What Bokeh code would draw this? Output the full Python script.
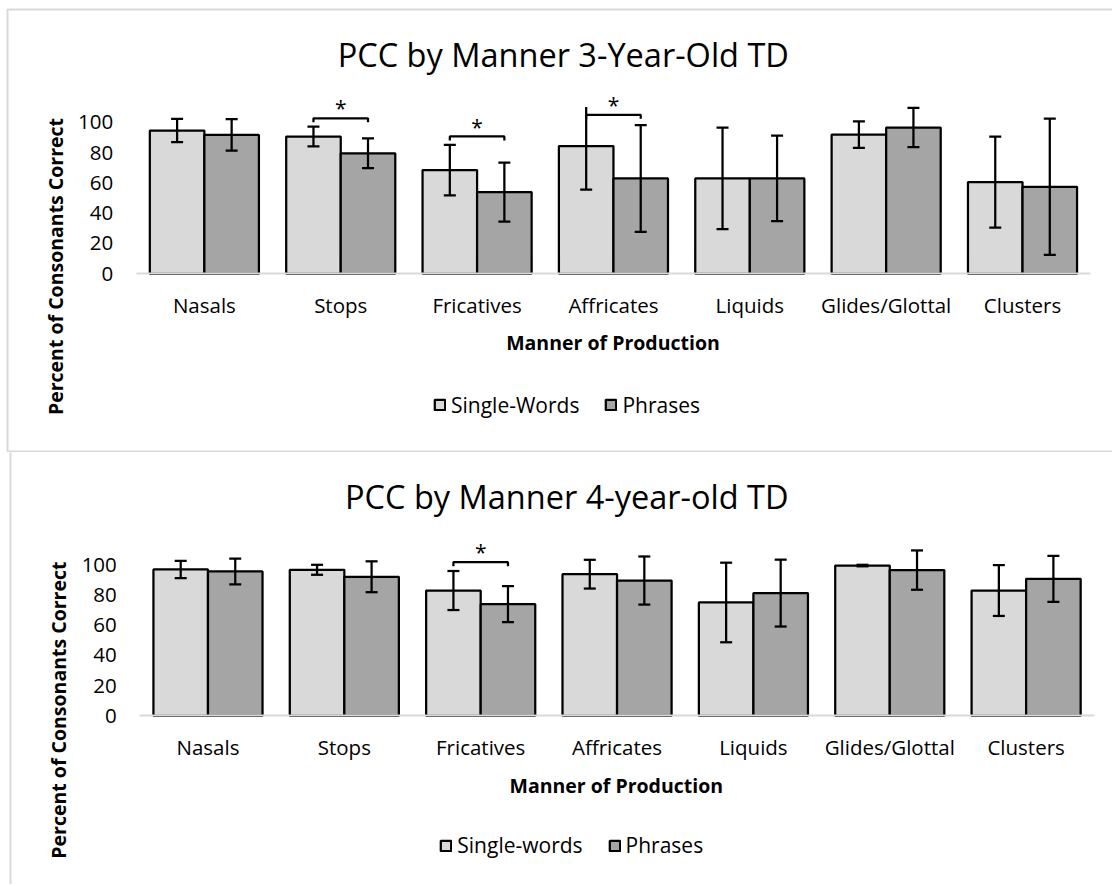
import math
from bokeh.plotting import figure
from bokeh.models import Range1d, ColumnDataSource, Label, Legend, LegendItem, FixedTicker
from bokeh.layouts import column
from bokeh.embed import file_html
from bokeh.resources import INLINE
from bokeh.core.properties import value

# ---------------- data ----------------
categories = ["Nasals", "Stops", "Fricatives", "Affricates", "Liquids", "Glides/Glottal", "Clusters"]
y_ticks = [0, 20, 40, 60, 80, 100]
y_axis_max = 110   # value axis maximum (error bars are cut off there)

title_3 = "PCC by Manner 3-Year-Old TD"
single_3 = [94.5, 90.5, 68.4, 84.3, 62.9, 91.8, 60.5]
single_3_err = [7.7, 6.5, 16.6, 28.7, 33.5, 8.8, 30.0]
phrases_3 = [91.6, 79.5, 53.9, 62.9, 62.9, 96.5, 57.4]
phrases_3_err = [10.4, 9.8, 19.5, 35.2, 28.2, 12.9, 44.9]
sig_3 = ["Stops", "Fricatives", "Affricates"]
sig_3_level = [102.6, 90.6, 104.9]
legend_3 = ["Single-Words", "Phrases"]

title_4 = "PCC by Manner 4-year-old TD"
single_4 = [96.7, 96.5, 82.8, 93.6, 74.9, 99.3, 82.8]
single_4_err = [5.7, 3.3, 12.9, 9.5, 26.3, 0.5, 16.8]
phrases_4 = [95.4, 91.9, 73.8, 89.4, 81.1, 96.3, 90.5]
phrases_4_err = [8.5, 10.2, 11.9, 15.9, 22.1, 13.0, 15.2]
sig_4 = ["Fricatives"]
sig_4_level = [101.5]
legend_4 = ["Single-words", "Phrases"]

x_title = "Manner of Production"
y_title = "Percent of Consonants Correct"

FONT = "Open Sans"
LIGHT = "#d9d9d9"
DARK = "#a5a5a5"
BORDER = "#d9d9d9"
W = 1112
BAR_W = 0.4
LW = 2.25
CAP_PX = 12


def make_chart(title, single, single_err, phrases, phrases_err, sig, sig_level, legend_labels,
               H, frame_l, frame_r, base_y, ppu, title_c, xlab_c, ylab_c, legend_lb,
               border_x, border_top, border_bottom):
    n = len(categories)
    g = (frame_r - frame_l) / n

    def px2x(px):
        return (px - frame_l) / g

    def py2y(py):
        return (base_y - py) / ppu

    p = figure(x_range=Range1d(px2x(0), px2x(W)), y_range=Range1d(py2y(H), py2y(0)),
               width=W, height=H, output_backend="svg", toolbar_location=None,
               min_border=0, title=None)
    p.outline_line_color = None
    p.background_fill_color = "white"
    p.border_fill_color = "white"
    p.xgrid.grid_line_color = None
    p.ygrid.grid_line_color = None

    # chart-area border
    if border_bottom is not None:
        bx = [px2x(W), px2x(border_x), px2x(border_x), px2x(W)]
        by = [py2y(border_top), py2y(border_top), py2y(border_bottom), py2y(border_bottom)]
    else:
        bx = [px2x(border_x), px2x(border_x)]
        by = [py2y(border_top), py2y(H)]
    p.line(x=bx, y=by, line_color=BORDER, line_width=2)

    xs_s = [i + 0.5 - BAR_W / 2 for i in range(n)]
    xs_p = [i + 0.5 + BAR_W / 2 for i in range(n)]
    r_s = p.vbar(x=xs_s, top=single, bottom=0, width=BAR_W,
                 fill_color=LIGHT, line_color="black", line_width=LW)
    r_p = p.vbar(x=xs_p, top=phrases, bottom=0, width=BAR_W,
                 fill_color=DARK, line_color="black", line_width=LW)

    # error bars (cut at the value-axis maximum, as in the original)
    cap = CAP_PX / g / 2
    sx0, sy0, sy1 = [], [], []
    cx0, cx1, cy = [], [], []
    for xs, vals, errs in ((xs_s, single, single_err), (xs_p, phrases, phrases_err)):
        for x, v, e in zip(xs, vals, errs):
            hi, lo = v + e, v - e
            sx0.append(x)
            sy0.append(lo)
            sy1.append(min(hi, y_axis_max))
            for yy in (lo, hi):
                if yy <= y_axis_max:
                    cx0.append(x - cap)
                    cx1.append(x + cap)
                    cy.append(yy)
    p.segment(x0=sx0, y0=sy0, x1=sx0, y1=sy1, line_color="black", line_width=LW)
    p.segment(x0=cx0, y0=cy, x1=cx1, y1=cy, line_color="black", line_width=LW)

    # significance brackets
    bxs, bys, stx, sty = [], [], [], []
    for cat, lvl in zip(sig, sig_level):
        i = categories.index(cat)
        a, b = xs_s[i], xs_p[i]
        bxs.append([a, a, b, b])
        bys.append([lvl - 2.6, lvl, lvl, lvl - 2.6])
        stx.append((a + b) / 2)
        sty.append(lvl + 6.5)
    p.multi_line(xs=bxs, ys=bys, line_color="black", line_width=LW)
    p.text(x=stx, y=sty, text=["*"] * len(stx), text_font=value(FONT), text_font_size="21px",
           text_align="center", text_baseline="middle", text_color="black")

    # axes (placed at the data origin)
    p.yaxis.fixed_location = 0
    p.yaxis.ticker = FixedTicker(ticks=y_ticks)
    p.yaxis.axis_line_color = None
    p.yaxis.major_tick_line_color = None
    p.yaxis.minor_tick_line_color = None
    p.yaxis.major_tick_out = 0
    p.yaxis.major_label_standoff = 23
    p.yaxis.major_label_text_font = FONT
    p.yaxis.major_label_text_font_size = "20.5px"
    p.yaxis.major_label_text_color = "black"

    p.xaxis.fixed_location = 0
    p.xaxis.bounds = (0, n)
    p.xaxis.ticker = FixedTicker(ticks=[i + 0.5 for i in range(n)])
    p.xaxis.major_label_overrides = {i + 0.5: c for i, c in enumerate(categories)}
    p.xaxis.axis_line_color = BORDER
    p.xaxis.axis_line_width = 2
    p.xaxis.major_tick_line_color = None
    p.xaxis.minor_tick_line_color = None
    p.xaxis.major_tick_out = 0
    p.xaxis.major_label_standoff = 17
    p.xaxis.major_label_text_font = FONT
    p.xaxis.major_label_text_font_size = "20.5px"
    p.xaxis.major_label_text_color = "black"

    # titles
    p.add_layout(Label(x=px2x(title_c[0]), y=py2y(title_c[1]), text=title, text_font=FONT,
                       text_font_size="32.5px", text_align="center", text_baseline="middle",
                       text_color="black"))
    p.add_layout(Label(x=px2x(xlab_c[0]), y=py2y(xlab_c[1]), text=x_title, text_font=FONT,
                       text_font_size="19.5px", text_font_style="bold", text_align="center",
                       text_baseline="middle", text_color="black"))
    p.add_layout(Label(x=px2x(ylab_c[0]), y=py2y(ylab_c[1]), text=y_title, text_font=FONT,
                       text_font_size="19.5px", text_font_style="bold", angle=math.pi / 2,
                       text_align="center", text_baseline="middle", text_color="black"))

    # legend
    leg = Legend(items=[LegendItem(label=legend_labels[0], renderers=[r_s]),
                        LegendItem(label=legend_labels[1], renderers=[r_p])],
                 orientation="horizontal", location=(legend_lb[0], H - legend_lb[1]),
                 glyph_width=13, glyph_height=13, label_standoff=5, spacing=25,
                 padding=0, margin=0, border_line_color=None, background_fill_alpha=0,
                 label_text_font=FONT, label_text_font_size="21px", label_text_color="black",
                 label_height=13)
    p.add_layout(leg, "center")
    return p


p1 = make_chart(title_3, single_3, single_3_err, phrases_3, phrases_3_err, sig_3, sig_3_level,
                legend_3, H=452, frame_l=135.7, frame_r=1090.2, base_y=273.3, ppu=1.516,
                title_c=(562.8, 53.8), xlab_c=(612.5, 341.7), ylab_c=(55, 266),
                legend_lb=(433, 418.5), border_x=7, border_top=9, border_bottom=451)
p2 = make_chart(title_4, single_4, single_4_err, phrases_4, phrases_4_err, sig_4, sig_4_level,
                legend_4, H=432, frame_l=139.3, frame_r=1093.8, base_y=263.3, ppu=1.513,
                title_c=(566.3, 44.2), xlab_c=(615.8, 333.0), ylab_c=(58.3, 257.6),
                legend_lb=(439.3, 407.2), border_x=10, border_top=-5, border_bottom=None)

layout = column(p1, p2, spacing=0)
open("out.html", "w").write(file_html(layout, INLINE))
